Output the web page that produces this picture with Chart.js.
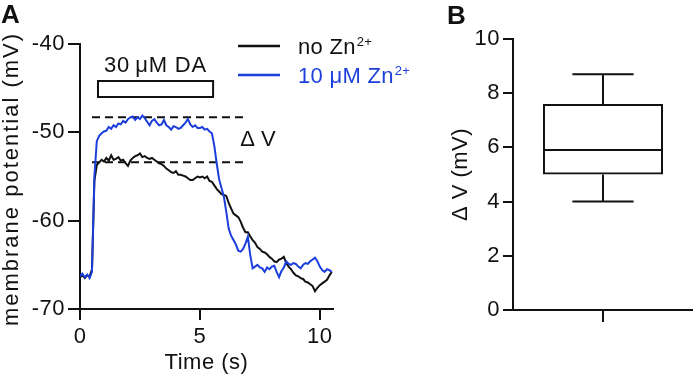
<!DOCTYPE html>
<html>
<head>
<meta charset="utf-8">
<script src="https://cdn.jsdelivr.net/npm/chart.js@4.4.1/dist/chart.umd.min.js"></script>
<style>
  html, body { margin: 0; padding: 0; background: #fff; }
  #wrap { position: relative; width: 693px; height: 379px; overflow: hidden; }
  canvas { position: absolute; top: 0; }
  #chart-a { left: 0; }
  #chart-b { left: 430px; }
</style>
</head>
<body>
<div id="wrap">
  <canvas id="chart-a" width="430" height="379"></canvas>
  <canvas id="chart-b" width="263" height="379"></canvas>
</div>
<script>
const FONT = "'Liberation Sans', Arial, Helvetica, sans-serif";
const INK = "#111111";
const BLUE = "#1c3fdc";
const FS = 22;

// Panel A — membrane potential traces, sampled every 0.1 s
const timeS = [
  0, 0.1, 0.2, 0.3, 0.4, 0.5, 0.6, 0.7, 0.8, 0.9, 1.0, 1.1, 1.2, 1.3, 1.4, 1.5, 1.6, 1.7, 1.8, 1.9,
  2.0, 2.1, 2.2, 2.3, 2.4, 2.5, 2.6, 2.7, 2.8, 2.9, 3.0, 3.1, 3.2, 3.3, 3.4, 3.5, 3.6, 3.7, 3.8, 3.9,
  4.0, 4.1, 4.2, 4.3, 4.4, 4.5, 4.6, 4.7, 4.8, 4.9, 5.0, 5.1, 5.2, 5.3, 5.4, 5.5, 5.6, 5.7, 5.8, 5.9,
  6.0, 6.1, 6.2, 6.3, 6.4, 6.5, 6.6, 6.7, 6.8, 6.9, 7.0, 7.1, 7.2, 7.3, 7.4, 7.5, 7.6, 7.7, 7.8, 7.9,
  8.0, 8.1, 8.2, 8.3, 8.4, 8.5, 8.6, 8.7, 8.8, 8.9, 9.0, 9.1, 9.2, 9.3, 9.4, 9.5, 9.6, 9.7, 9.8, 9.9,
  10.0, 10.1, 10.2, 10.3, 10.4, 10.5,
];
const noZn = [
  -66.4, -66.2, -66.5, -66.2, -66.3, -65.5, -55.5, -53.7, -53.4, -53.1, -53.3, -52.9, -53.2, -52.6, -53.1, -53.0,
  -52.8, -53.2, -53.1, -53.5, -53.8, -53.2, -52.9, -52.7, -52.6, -52.4, -52.8, -52.7, -52.9, -53.0, -52.9,
  -53.1, -53.3, -53.5, -53.6, -53.8, -54.1, -54.3, -54.5, -54.6, -54.4, -54.8, -54.8, -54.9, -55.0, -55.2,
  -55.4, -55.4, -55.2, -55.0, -55.1, -55.0, -55.2, -55.0, -55.5, -55.6, -56.0, -56.4, -56.7, -57.0, -57.1,
  -57.2, -58.0, -58.6, -59.2, -59.4, -59.6, -60.1, -60.8, -61.3, -61.3, -61.8, -62.2, -62.5, -63.0, -63.2,
  -63.5, -63.6, -63.8, -64.1, -64.3, -64.6, -64.7, -64.4, -64.3, -64.1, -64.8, -65.2, -65.5, -65.9, -66.2,
  -66.3, -66.5, -66.6, -66.9, -67.0, -67.2, -67.4, -68.0, -67.6, -67.3, -67.1, -66.9, -66.7, -66.2, -65.8,
];
const zn10 = [
  -66.3, -66.0, -66.4, -66.1, -66.5, -65.8, -55.0, -51.0, -50.4, -50.1, -49.9, -49.8, -49.4, -49.6, -49.2, -49.4,
  -49.0, -49.1, -48.7, -48.9, -48.5, -48.3, -48.2, -48.6, -48.3, -48.5, -48.1, -48.4, -48.8, -49.2, -48.7,
  -48.5, -48.9, -49.2, -49.1, -48.6, -49.2, -49.4, -49.7, -49.3, -49.4, -49.6, -49.5, -49.2, -48.9, -48.5,
  -49.1, -49.4, -49.2, -49.5, -49.5, -49.4, -49.7, -49.6, -49.9, -50.1, -51.5, -53.5, -55.3, -56.3, -57.3,
  -59.0, -60.9, -61.7, -62.2, -62.7, -63.4, -63.5, -63.2, -62.6, -61.8, -63.9, -65.4, -65.2, -65.0, -65.3,
  -65.4, -65.8, -65.3, -65.5, -65.2, -65.1, -65.8, -66.4, -65.7, -65.3, -64.6, -64.9, -65.0, -64.8, -64.9,
  -65.2, -65.4, -65.0, -64.8, -64.9, -64.6, -64.4, -64.2, -64.6, -65.2, -65.6, -65.8, -65.5, -65.6, -65.8,
];
const legendNames = ["no Zn", "10 μM Zn"];
const daLabel = "30\u2009μM DA";
const daWindow = [0.75, 5.55];      // s, dopamine application bar
const dvTime = [0.5, 7.0];          // s, extent of the dashed ΔV guides
const dvLevels = [-48.3, -53.4];    // mV
const xTicksA = [0, 5, 10];
const yTicksA = [-70, -60, -50, -40];
const yTitleA = "membrane potential (mV)";

// Panel B — ΔV box plot (mV)
const groupsB = [""];
const whiskerLow = [4.0];
const q1 = [5.0];
const medianB = [5.9];
const q3 = [7.6];
const whiskerHigh = [8.7];
const yTicksB = [0, 2, 4, 6, 8, 10];

Chart.defaults.font.family = FONT;
Chart.defaults.color = INK;

// slightly wider tracking, closer to the exported figure's text
const tracking = {
  id: "tracking",
  beforeDraw(chart) { chart.ctx.letterSpacing = "0.5px"; },
};

function axisStyle(tickLength) {
  return {
    grid: { display: true, drawOnChartArea: false, drawTicks: true, tickLength, color: INK, lineWidth: 2 },
    border: { display: true, color: INK, width: 2 },
  };
}

function drawSup(ctx, main, sup, x, base, color) {
  ctx.fillStyle = color;
  ctx.font = `${FS}px ${FONT}`;
  ctx.fillText(main, x, base);
  const w = ctx.measureText(main).width;
  ctx.font = `13px ${FONT}`;
  ctx.fillText(sup, x + w + 1, base - 8);
}

const panelAExtras = {
  id: "panelAExtras",
  afterDraw(chart) {
    const { ctx, scales: { x, y } } = chart;
    ctx.save();
    ctx.fillStyle = INK;
    ctx.textAlign = "left";
    ctx.textBaseline = "alphabetic";
    ctx.font = `bold 26px ${FONT}`;
    ctx.fillText("A", 1, 23);

    // y title, drawn by hand for its wide tracking
    ctx.save();
    ctx.translate(12, 179);
    ctx.rotate(-Math.PI / 2);
    ctx.letterSpacing = "2px";
    ctx.font = `${FS}px ${FONT}`;
    ctx.textAlign = "center";
    ctx.textBaseline = "middle";
    ctx.fillText(yTitleA, 0, 0);
    ctx.restore();

    // DA application bar + label
    const x0 = x.getPixelForValue(daWindow[0]);
    const x1 = x.getPixelForValue(daWindow[1]);
    const barTop = 81, barBot = 97;
    ctx.lineWidth = 2;
    ctx.strokeStyle = INK;
    ctx.strokeRect(x0, barTop, x1 - x0, barBot - barTop);
    ctx.font = `${FS}px ${FONT}`;
    ctx.textAlign = "center";
    ctx.textBaseline = "middle";
    ctx.letterSpacing = "0.8px";
    ctx.fillText(daLabel, (x0 + x1) / 2, barTop - 15);
    ctx.letterSpacing = "0px";

    // ΔV label between dashed guides
    const ya = y.getPixelForValue(dvLevels[0]);
    const yb = y.getPixelForValue(dvLevels[1]);
    ctx.fillText("Δ V", x.getPixelForValue(dvTime[1]) + 10, (ya + yb) / 2);

    // legend
    const colors = [INK, BLUE];
    const rows = [46, 75];
    ctx.textAlign = "left";
    ctx.textBaseline = "alphabetic";
    ctx.letterSpacing = "0.3px";
    legendNames.forEach((name, i) => {
      ctx.strokeStyle = colors[i];
      ctx.lineWidth = 2.5;
      ctx.beginPath();
      ctx.moveTo(238, rows[i]);
      ctx.lineTo(280, rows[i]);
      ctx.stroke();
      drawSup(ctx, name, "2+", 298, rows[i] + 8, colors[i]);
    });
    ctx.restore();
  },
};

const pts = (ys) => timeS.map((t, i) => ({ x: t, y: ys[i] }));
const guide = (lvl) => dvTime.map((t) => ({ x: t, y: lvl }));

new Chart(document.getElementById("chart-a"), {
  type: "line",
  data: {
    datasets: [
      { label: legendNames[1], data: pts(zn10), borderColor: BLUE, borderWidth: 2, pointRadius: 0, order: 1 },
      { label: legendNames[0], data: pts(noZn), borderColor: INK, borderWidth: 2, pointRadius: 0, order: 2 },
      ...dvLevels.map((lvl) => ({
        data: guide(lvl), borderColor: INK, borderWidth: 2, borderDash: [8, 5], pointRadius: 0, order: 3,
      })),
    ],
  },
  options: {
    responsive: false,
    animation: false,
    layout: { padding: { top: 44, right: 97, left: 0, bottom: 0 } },
    plugins: { legend: { display: false }, tooltip: { enabled: false } },
    scales: {
      x: {
        type: "linear",
        min: 0,
        max: 10.55,
        ...axisStyle(11),
        afterBuildTicks: (s) => { s.ticks = xTicksA.map((v) => ({ value: v })); },
        ticks: { font: { size: FS }, color: INK, padding: 4, maxRotation: 0 },
        title: { display: true, text: "Time (s)", font: { size: FS }, color: INK, padding: { top: 0, bottom: 3 } },
        afterFit: (s) => { s.height = 70; },
      },
      y: {
        type: "linear",
        min: -70,
        max: -40,
        ...axisStyle(12),
        afterBuildTicks: (s) => { s.ticks = yTicksA.map((v) => ({ value: v })); },
        ticks: { font: { size: FS }, color: INK, padding: 3 },
        title: { display: false },
        afterFit: (s) => { s.width = 80; },
      },
    },
  },
  plugins: [tracking, panelAExtras],
});

const panelBExtras = {
  id: "panelBExtras",
  afterDatasetsDraw(chart) {
    const { ctx, scales: { y } } = chart;
    const meta = chart.getDatasetMeta(0);
    ctx.save();
    ctx.strokeStyle = INK;
    ctx.lineWidth = 2;
    meta.data.forEach((bar, i) => {
      const half = bar.width / 2;
      const cap = bar.width * 0.255;
      const yMed = y.getPixelForValue(medianB[i]);
      const yQ1 = y.getPixelForValue(q1[i]);
      const yQ3 = y.getPixelForValue(q3[i]);
      const yLo = y.getPixelForValue(whiskerLow[i]);
      const yHi = y.getPixelForValue(whiskerHigh[i]);
      ctx.beginPath();
      ctx.moveTo(bar.x - half, yMed); ctx.lineTo(bar.x + half, yMed);
      ctx.moveTo(bar.x, yQ3); ctx.lineTo(bar.x, yHi);
      ctx.moveTo(bar.x - cap, yHi); ctx.lineTo(bar.x + cap, yHi);
      ctx.moveTo(bar.x, yQ1); ctx.lineTo(bar.x, yLo);
      ctx.moveTo(bar.x - cap, yLo); ctx.lineTo(bar.x + cap, yLo);
      ctx.stroke();
    });
    ctx.fillStyle = INK;
    ctx.font = `bold 26px ${FONT}`;
    ctx.textAlign = "left";
    ctx.textBaseline = "alphabetic";
    ctx.fillText("B", 17, 24);
    ctx.restore();
  },
};

new Chart(document.getElementById("chart-b"), {
  type: "bar",
  data: {
    labels: groupsB,
    datasets: [{
      data: groupsB.map((g, i) => [q1[i], q3[i]]),
      backgroundColor: "rgba(255,255,255,0)",
      borderColor: INK,
      borderWidth: 2,
      borderSkipped: false,
      categoryPercentage: 1,
      barPercentage: 0.667,
    }],
  },
  options: {
    responsive: false,
    animation: false,
    layout: { padding: { top: 39, right: 0, left: 0, bottom: 0 } },
    plugins: { legend: { display: false }, tooltip: { enabled: false } },
    scales: {
      x: {
        type: "category",
        offset: true,
        ...axisStyle(12),
        grid: { display: true, drawOnChartArea: false, drawTicks: true, tickLength: 12, color: INK, lineWidth: 2, offset: false },
        ticks: { font: { size: FS }, color: INK },
        afterFit: (s) => { s.height = 69; },
      },
      y: {
        type: "linear",
        min: 0,
        max: 10,
        ...axisStyle(10),
        afterBuildTicks: (s) => { s.ticks = yTicksB.map((v) => ({ value: v })); },
        ticks: { font: { size: FS }, color: INK, padding: 3 },
        title: { display: true, text: "Δ V (mV)", font: { size: FS }, color: INK, padding: { top: 18, bottom: 0 } },
        afterFit: (s) => { s.width = 83; },
      },
    },
  },
  plugins: [tracking, panelBExtras],
});
</script>
</body>
</html>
